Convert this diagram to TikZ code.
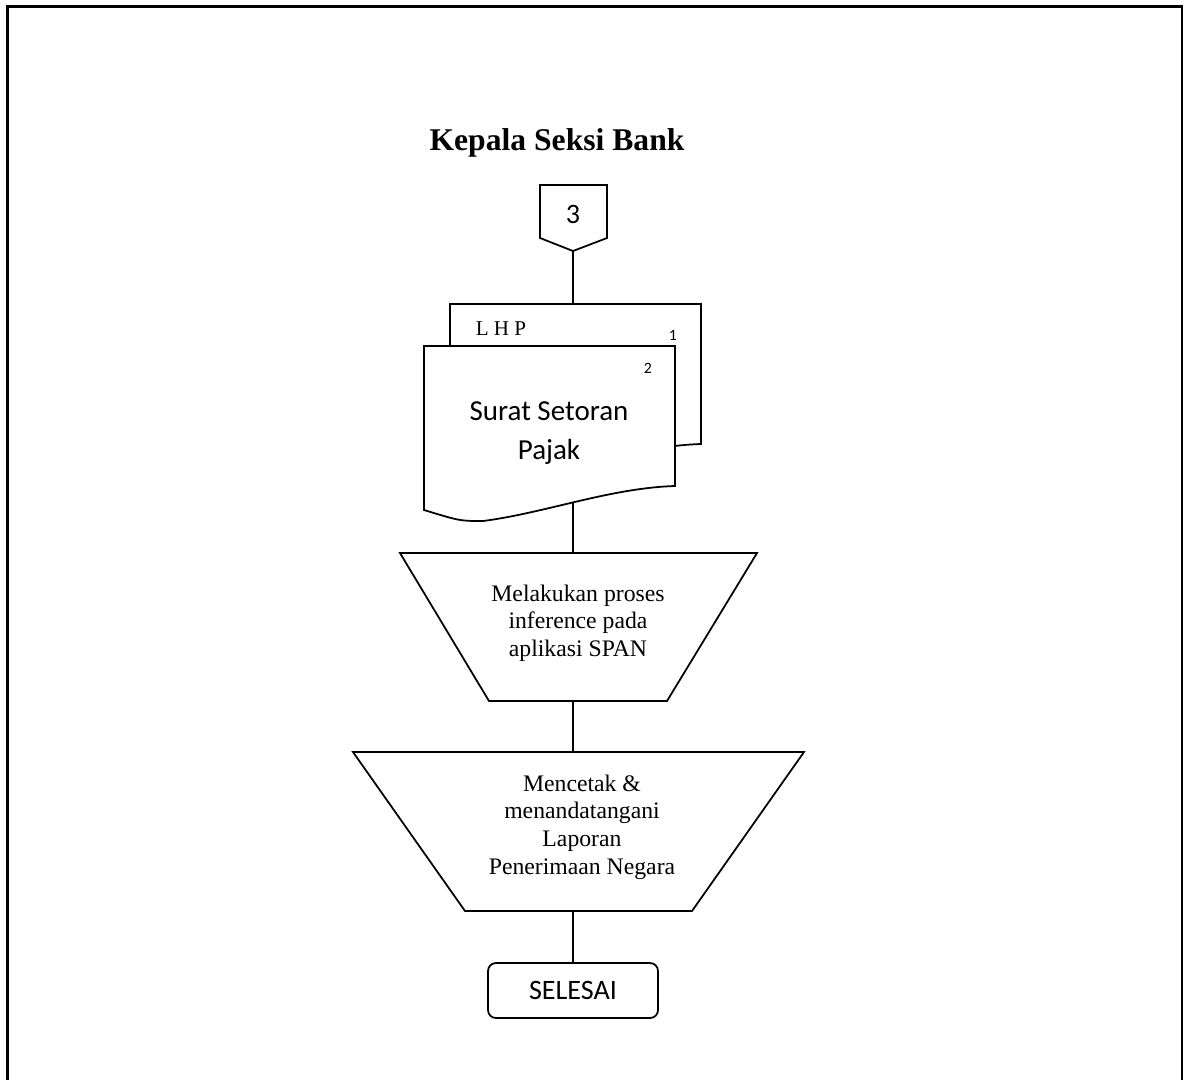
\documentclass[tikz,border=0pt]{standalone}
\usepackage{fontspec}
\setmainfont{Liberation Serif}
\newfontfamily\calib{Carlito}
\begin{document}
\begin{tikzpicture}[x=0.02cm,y=-0.02cm,
  line/.style={line width=1pt,line join=miter},
  frameline/.style={line width=1.3pt},
  docshape/.style={line, fill=white},
  serifbox/.style={align=center, inner sep=0pt, font=\fontsize{13.5}{15.7}\selectfont},
  sanslabel/.style={inner sep=0pt, font=\calib\fontsize{16.5}{22}\selectfont, align=center},
  smallnum/.style={inner sep=0pt, font=\calib\fontsize{9}{10}\selectfont},
  terminal/.style={line, draw, rounded corners=4.5pt, minimum width=3.4cm, minimum height=1.1cm,
                   inner sep=0pt, font=\calib\fontsize{16}{19}\selectfont}]
\useasboundingbox (0,0) rectangle (1184,1080);

% page frame (open at the bottom)
\draw[frameline] (7.5,1080) -- (7.5,6.5) -- (1182,6.5) -- (1182,1080);

% heading
\node[font=\bfseries\fontsize{18}{21}\selectfont] (title) at (557,143) {Kepala Seksi Bank};

% off-page connector
\draw[line] (540,185) -- (607,185) -- (607,238) -- (573,251) -- (540,238) -- cycle;
\node[font=\calib\fontsize{16}{19}\selectfont, inner sep=0pt] (c3) at (573,214) {3};
\coordinate (c3tip) at (573,251);

% two stacked documents (back one shifted up and to the right)
\foreach \dx/\dy in {26/-42, 0/0}{
  \draw[docshape, shift={(\dx,\dy)}]
    (424,346) -- (675,346) -- (675,486)
    .. controls (610,488) and (545,513) .. (483,521)
    .. controls (460,521) .. (424,510) -- cycle;
}
\coordinate (doctop) at (573,304);
\coordinate (docbot) at (573,503);
\node[font=\fontsize{12}{14}\selectfont, inner sep=0pt] (lhp) at (501,329) {L H P};
\node[smallnum] (n1) at (673,335) {1};
\node[smallnum] (n2) at (648,368) {2};
\node[sanslabel] (ssp) at (549,433) {Surat Setoran\\Pajak};

% first manual operation
\draw[line] (400,553) -- (757,553) -- (667,701) -- (489,701) -- cycle;
\coordinate (t1top) at (573,553);
\coordinate (t1bot) at (573,701);
\node[serifbox] (t1) at (578,623) {Melakukan proses\\inference pada\\aplikasi SPAN};

% second manual operation
\draw[line] (353,752) -- (804,752) -- (692,911) -- (465,911) -- cycle;
\coordinate (t2top) at (573,752);
\coordinate (t2bot) at (573,911);
\node[serifbox] (t2) at (582,827) {Mencetak \&\\menandatangani\\Laporan\\Penerimaan Negara};

% end terminal
\node[terminal] (end) at (573,990.5) {SELESAI};

% connectors
\draw[line] (c3tip) -- (doctop);
\draw[line] (docbot) -- (t1top);
\draw[line] (t1bot) -- (t2top);
\draw[line] (t2bot) -- (end.north);
\end{tikzpicture}
\end{document}
